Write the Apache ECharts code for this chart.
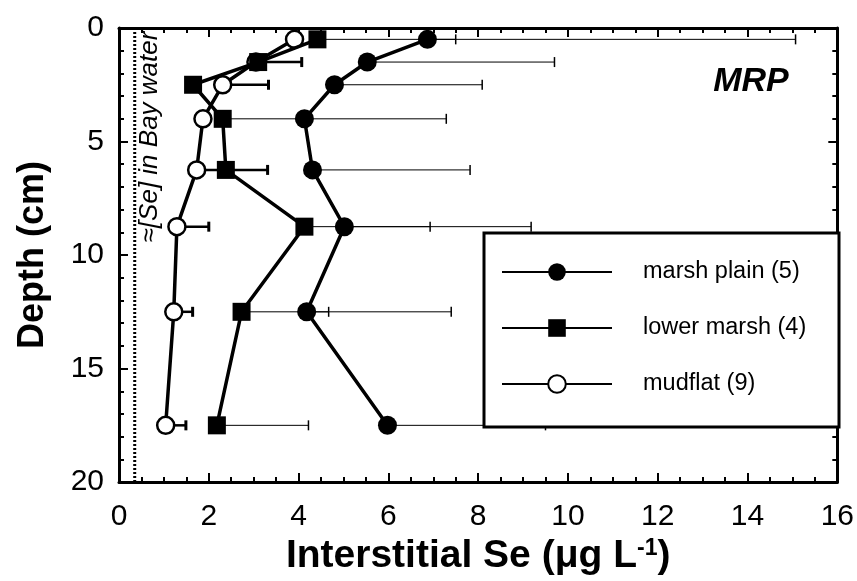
<!DOCTYPE html>
<html>
<head>
<meta charset="utf-8">
<script src="https://cdn.jsdelivr.net/npm/echarts@6/dist/echarts.min.js"></script>
<style>
  html, body { margin: 0; background: #fff; }
  #chart { width: 857px; height: 581px; }
</style>
</head>
<body>
<div id="chart"></div>
<script>
// depth mid-points of the core slices (cm)
const depths = [0.5, 1.5, 2.5, 4, 6.25, 8.75, 12.5, 17.5]
// interstitial Se means (ug/L) and upper ends of the error bars
const marshPlain = [6.87, 5.53, 4.8, 4.13, 4.31, 5.02, 4.18, 5.98]
const marshPlainHi = [15.07, 9.7, 8.09, 7.29, 7.82, 9.18, 7.4, 9.5]
const lowerMarsh = [4.42, 3.1, 1.65, 2.31, 2.38, 4.13, 2.73, 2.18]
const lowerMarshHi = [7.5, null, null, 4.2, null, 6.93, 4.67, 4.22]
const mudflat = [3.91, 3.05, 2.31, 1.87, 1.73, 1.29, 1.22, 1.04]
const mudflatHi = [null, 4.07, 3.33, null, 3.31, 2.0, 1.64, 1.49]
const seriesNames = ['marsh plain (5)', 'lower marsh (4)', 'mudflat (9)']
const xTicks = { min: 0, max: 16, step: 2 }
const yTicks = { min: 0, max: 20, step: 5 }
const bayWater = 0.35

const font = '"Liberation Sans", Arial, sans-serif'

function pts(vals) {
  return depths.map((d, i) => [vals[i], d])
}
function errs(vals, hi) {
  return depths.map((d, i) => hi[i] == null ? null : [vals[i], d, hi[i]]).filter(Boolean)
}
function errRender(lw, capW) {
  return function (params, api) {
    const a = api.coord([api.value(0), api.value(1)])
    const b = api.coord([api.value(2), api.value(1)])
    return {
      type: 'group',
      children: [
        { type: 'line', shape: { x1: a[0], y1: a[1], x2: b[0], y2: b[1] }, style: { stroke: '#000', lineWidth: lw } },
        { type: 'line', shape: { x1: b[0], y1: b[1] - 5, x2: b[0], y2: b[1] + 5 }, style: { stroke: '#000', lineWidth: capW } }
      ]
    }
  }
}

const axisLine = { onZero: false, lineStyle: { color: '#000', width: 3 } }
const tick = { inside: true, length: 9, lineStyle: { color: '#000', width: 2 } }

function xAxis(pos, labels) {
  return {
    type: 'value', position: pos, min: xTicks.min, max: xTicks.max, interval: xTicks.step,
    axisLine: axisLine, axisTick: tick,
    minorTick: { show: true, splitNumber: 4, length: 5, lineStyle: { color: '#000', width: 2 } },
    splitLine: { show: false },
    axisLabel: { show: labels, fontSize: 30, color: '#000', fontFamily: font, margin: 20 }
  }
}
function yAxis(pos, labels) {
  return {
    type: 'value', position: pos, inverse: true, min: yTicks.min, max: yTicks.max, interval: yTicks.step,
    axisLine: axisLine, axisTick: tick,
    minorTick: { show: true, splitNumber: 5, length: 5, lineStyle: { color: '#000', width: 2 } },
    splitLine: { show: false },
    axisLabel: { show: labels, fontSize: 30, color: '#000', fontFamily: font, margin: 15 }
  }
}

const chart = echarts.init(document.getElementById('chart'))

const xBottom = xAxis('bottom', true)
xBottom.name = '{t|Interstitial Se (μg L}{s|-1}{t|)}'
xBottom.nameLocation = 'middle'
xBottom.nameGap = 50
xBottom.nameTextStyle = {
  rich: {
    t: { fontSize: 39, fontWeight: 'bold', color: '#000', fontFamily: font },
    s: { fontSize: 23, fontWeight: 'bold', color: '#000', fontFamily: font, verticalAlign: 'top' }
  }
}
const yLeft = yAxis('left', true)
yLeft.name = 'Depth (cm)'
yLeft.nameLocation = 'middle'
yLeft.nameGap = 68
yLeft.nameTextStyle = { fontSize: 36, fontWeight: 'bold', color: '#000', fontFamily: font }

chart.setOption({
  animation: false,
  backgroundColor: '#fff',
  grid: { left: 119, right: 18, top: 28, bottom: 98 },
  xAxis: [xBottom, xAxis('top', false)],
  yAxis: [yLeft, yAxis('right', false)],
  legend: {
    data: seriesNames,
    orient: 'vertical',
    left: 496, top: 255,
    itemWidth: 110, itemHeight: 22, itemGap: 32,
    selectedMode: false,
    textStyle: { fontSize: 23.5, color: '#000', fontFamily: font, padding: [0, 0, 0, 26] },
    lineStyle: { width: 2 }
  },
  graphic: [
    { type: 'rect', z: 3, shape: { x: 484, y: 233, width: 355, height: 194 },
      style: { fill: '#fff', stroke: '#000', lineWidth: 3 } },
    { type: 'text', x: 150, y: 137, rotation: Math.PI / 2,
      style: { text: '≈[Se] in Bay water', fontSize: 26, fontStyle: 'italic', fontFamily: font,
        fill: '#000', textAlign: 'center', textVerticalAlign: 'middle' } },
    { type: 'text', x: 751, y: 82,
      style: { text: 'MRP', fontSize: 34, fontStyle: 'italic', fontWeight: 'bold', fontFamily: font,
        fill: '#000', textAlign: 'center', textVerticalAlign: 'middle' } }
  ],
  series: [
    {
      type: 'line', silent: true, symbol: 'none', z: 1,
      data: [[bayWater, yTicks.min], [bayWater, yTicks.max]],
      lineStyle: { color: '#000', width: 3, type: [2, 2] }
    },
    { type: 'custom', renderItem: errRender(1, 1.5), data: errs(marshPlain, marshPlainHi), z: 1, silent: true },
    { type: 'custom', renderItem: errRender(1, 1.5), data: errs(lowerMarsh, lowerMarshHi), z: 1, silent: true },
    { type: 'custom', renderItem: errRender(2.5, 3), data: errs(mudflat, mudflatHi), z: 1, silent: true },
    {
      name: seriesNames[2], type: 'line', data: pts(mudflat), z: 2,
      symbol: 'circle', symbolSize: 17,
      lineStyle: { color: '#000', width: 3.5 },
      itemStyle: { color: '#fff', borderColor: '#000', borderWidth: 2.5 }
    },
    {
      name: seriesNames[1], type: 'line', data: pts(lowerMarsh), z: 3,
      symbol: 'rect', symbolSize: 18,
      lineStyle: { color: '#000', width: 3.5 },
      itemStyle: { color: '#000' }
    },
    {
      name: seriesNames[0], type: 'line', data: pts(marshPlain), z: 3,
      symbol: 'circle', symbolSize: 19,
      lineStyle: { color: '#000', width: 3.5 },
      itemStyle: { color: '#000' }
    }
  ]
})
</script>
</body>
</html>
